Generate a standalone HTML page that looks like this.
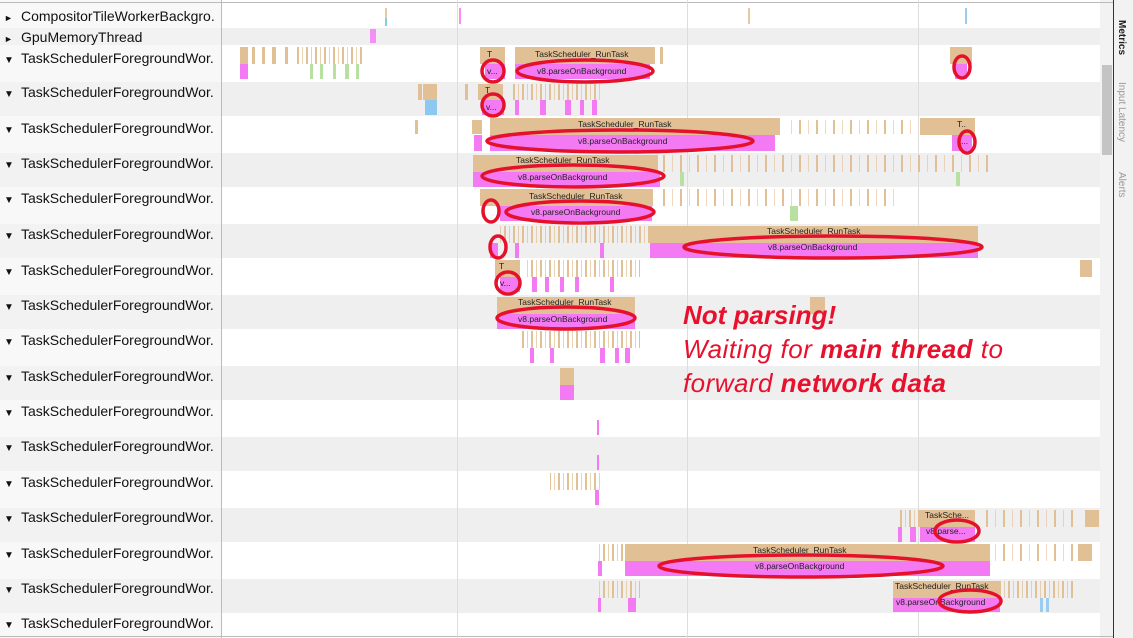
<!DOCTYPE html>
<html><head><meta charset="utf-8"><style>
html,body{margin:0;padding:0;background:#fff}
svg{display:block}
.l{font-family:"Liberation Sans",sans-serif;font-size:14px;fill:#111}
.s{font-family:"Liberation Sans",sans-serif;font-size:8.5px;fill:#222}
.a{font-family:"Liberation Sans",sans-serif;font-style:italic;font-size:26px;fill:#e8112d}
</style></head><body>
<svg width="1133" height="638" viewBox="0 0 1133 638" xmlns="http://www.w3.org/2000/svg">
<defs>
<pattern id="st" width="9" height="10" patternUnits="userSpaceOnUse"><rect x="0" y="0" width="2" height="10" fill="#e2c096"/><rect x="5" y="0" width="1" height="10" fill="#e2c096" opacity=".7"/></pattern>
<pattern id="st2" width="17" height="10" patternUnits="userSpaceOnUse"><rect x="0" y="0" width="2" height="10" fill="#e2c096"/><rect x="9" y="0" width="1" height="10" fill="#e2c096" opacity=".6"/></pattern>
</defs>
<rect width="1133" height="638" fill="#fff"/>
<g fill="#efefef">
<rect x="0" y="28" width="1100" height="17"/>
<rect x="0" y="82" width="1100" height="34"/>
<rect x="0" y="153" width="1100" height="34"/>
<rect x="0" y="224" width="1100" height="34"/>
<rect x="0" y="295" width="1100" height="34"/>
<rect x="0" y="366" width="1100" height="34"/>
<rect x="0" y="437" width="1100" height="34"/>
<rect x="0" y="508" width="1100" height="34"/>
<rect x="0" y="579" width="1100" height="34"/>
</g>
<rect x="0" y="0" width="221" height="638" fill="#f3f3f3" opacity="0.6"/>
<rect x="1100" y="0" width="33" height="638" fill="#f2f2f2"/>
<rect x="1102" y="65" width="10" height="90" fill="#c4c4c4"/>
<line x1="1113.5" y1="0" x2="1113.5" y2="638" stroke="#333" stroke-width="1"/>
<line x1="221.5" y1="0" x2="221.5" y2="638" stroke="#bbb"/>
<line x1="0" y1="2.5" x2="1113" y2="2.5" stroke="#bbb"/>
<line x1="0" y1="636.5" x2="1113" y2="636.5" stroke="#bbb"/>
<g stroke="#ddd"><line x1="457.5" y1="0" x2="457.5" y2="638"/><line x1="687.5" y1="0" x2="687.5" y2="638"/><line x1="918.5" y1="0" x2="918.5" y2="638"/></g>
<g font-family="Liberation Sans,sans-serif" font-size="10" fill="#444">
<text transform="translate(1119,20) rotate(90)" font-weight="bold" fill="#222">Metrics</text>
<text transform="translate(1119,82) rotate(90)" fill="#999">Input Latency</text>
<text transform="translate(1119,172) rotate(90)" fill="#999">Alerts</text>
</g>
<g class="l">
<text x="4" y="21" font-size="9">►</text><text x="21" y="21">CompositorTileWorkerBackgro.</text>
<text x="4" y="42" font-size="9">►</text><text x="21" y="42">GpuMemoryThread</text>
<text x="4" y="63" font-size="10">▼</text><text x="21" y="63">TaskSchedulerForegroundWor.</text>
<text x="4" y="97" font-size="10">▼</text><text x="21" y="97">TaskSchedulerForegroundWor.</text>
<text x="4" y="133" font-size="10">▼</text><text x="21" y="133">TaskSchedulerForegroundWor.</text>
<text x="4" y="168" font-size="10">▼</text><text x="21" y="168">TaskSchedulerForegroundWor.</text>
<text x="4" y="203" font-size="10">▼</text><text x="21" y="203">TaskSchedulerForegroundWor.</text>
<text x="4" y="239" font-size="10">▼</text><text x="21" y="239">TaskSchedulerForegroundWor.</text>
<text x="4" y="275" font-size="10">▼</text><text x="21" y="275">TaskSchedulerForegroundWor.</text>
<text x="4" y="310" font-size="10">▼</text><text x="21" y="310">TaskSchedulerForegroundWor.</text>
<text x="4" y="345" font-size="10">▼</text><text x="21" y="345">TaskSchedulerForegroundWor.</text>
<text x="4" y="381" font-size="10">▼</text><text x="21" y="381">TaskSchedulerForegroundWor.</text>
<text x="4" y="416" font-size="10">▼</text><text x="21" y="416">TaskSchedulerForegroundWor.</text>
<text x="4" y="451" font-size="10">▼</text><text x="21" y="451">TaskSchedulerForegroundWor.</text>
<text x="4" y="487" font-size="10">▼</text><text x="21" y="487">TaskSchedulerForegroundWor.</text>
<text x="4" y="522" font-size="10">▼</text><text x="21" y="522">TaskSchedulerForegroundWor.</text>
<text x="4" y="558" font-size="10">▼</text><text x="21" y="558">TaskSchedulerForegroundWor.</text>
<text x="4" y="593" font-size="10">▼</text><text x="21" y="593">TaskSchedulerForegroundWor.</text>
<text x="4" y="628" font-size="10">▼</text><text x="21" y="628">TaskSchedulerForegroundWor.</text>
</g>
<g>
<rect x="385" y="8" width="2" height="10" fill="#e8c9a0"/><rect x="385" y="18" width="2" height="8" fill="#8cd"/>
<rect x="459" y="8" width="2" height="16" fill="#f58ff5"/>
<rect x="370" y="29" width="6" height="14" fill="#f58ff5"/>
<rect x="748" y="8" width="2" height="16" fill="#e8c9a0"/><rect x="965" y="8" width="2" height="16" fill="#9ce"/>
</g>
<!-- striped scattered regions -->
<g>
<rect x="295" y="47" width="70" height="17" fill="url(#st)"/>
<rect x="510" y="84" width="90" height="16" fill="url(#st)"/>
<rect x="785" y="120" width="130" height="14" fill="url(#st2)"/>
<rect x="660" y="155" width="330" height="17" fill="url(#st2)"/>
<rect x="660" y="189" width="240" height="17" fill="url(#st2)"/>
<rect x="500" y="226" width="150" height="17" fill="url(#st)"/>
<rect x="525" y="260" width="115" height="17" fill="url(#st)"/>
<rect x="520" y="331" width="120" height="17" fill="url(#st)"/>
<rect x="550" y="473" width="50" height="17" fill="url(#st)"/>
<rect x="898" y="510" width="22" height="17" fill="url(#st)"/>
<rect x="980" y="510" width="100" height="17" fill="url(#st2)"/>
<rect x="598" y="544" width="25" height="17" fill="url(#st)"/>
<rect x="995" y="544" width="80" height="17" fill="url(#st2)"/>
<rect x="598" y="581" width="42" height="17" fill="url(#st)"/>
<rect x="1000" y="581" width="75" height="17" fill="url(#st)"/>
<rect x="240" y="64" width="4" height="1" fill="none"/>
</g>
<g fill="#e2c096">
<rect x="240" y="47" width="8" height="17"/><rect x="252" y="47" width="3" height="17"/><rect x="262" y="47" width="3" height="17"/><rect x="272" y="47" width="4" height="17"/><rect x="285" y="47" width="3" height="17"/>
<rect x="480" y="47" width="25" height="17"/><rect x="515" y="47" width="140" height="17"/><rect x="660" y="47" width="3" height="17"/><rect x="950" y="47" width="22" height="17"/>
<rect x="418" y="84" width="4" height="16"/><rect x="423" y="84" width="14" height="16"/><rect x="465" y="84" width="3" height="16"/><rect x="478" y="84" width="25" height="16"/>
<rect x="415" y="120" width="3" height="14"/><rect x="472" y="120" width="10" height="14"/><rect x="490" y="118" width="290" height="17"/><rect x="920" y="118" width="55" height="17"/>
<rect x="473" y="155" width="185" height="17"/>
<rect x="480" y="189" width="173" height="17"/>
<rect x="650" y="226" width="328" height="17"/>
<rect x="495" y="260" width="25" height="17"/><rect x="1080" y="260" width="12" height="17"/>
<rect x="497" y="297" width="138" height="17"/><rect x="810" y="297" width="15" height="17"/>
<rect x="560" y="368" width="14" height="17"/>
<rect x="920" y="510" width="55" height="17"/><rect x="1085" y="510" width="14" height="17"/>
<rect x="625" y="544" width="365" height="17"/><rect x="1078" y="544" width="14" height="17"/>
<rect x="893" y="581" width="107" height="17"/>
</g>
<g fill="#b8e0a0">
<rect x="310" y="64" width="3" height="15"/><rect x="320" y="64" width="3" height="15"/><rect x="333" y="64" width="3" height="15"/><rect x="345" y="64" width="4" height="15"/><rect x="356" y="64" width="3" height="15"/><rect x="790" y="206" width="8" height="15"/><rect x="680" y="172" width="4" height="14"/><rect x="956" y="172" width="4" height="14"/>
</g>
<rect x="425" y="100" width="12" height="15" fill="#8cc8f0"/>
<rect x="1040" y="598" width="3" height="14" fill="#9ce"/><rect x="1046" y="598" width="3" height="14" fill="#9ce"/>
<g fill="#f47af4">
<rect x="240" y="64" width="8" height="15"/><rect x="485" y="64" width="20" height="15"/><rect x="515" y="64" width="135" height="15"/><rect x="955" y="64" width="12" height="15"/>
<rect x="482" y="100" width="22" height="15"/><rect x="515" y="100" width="4" height="15"/><rect x="540" y="100" width="6" height="15"/><rect x="565" y="100" width="6" height="15"/><rect x="580" y="100" width="4" height="15"/><rect x="592" y="100" width="5" height="15"/>
<rect x="474" y="135" width="8" height="16"/><rect x="490" y="135" width="285" height="16"/><rect x="952" y="135" width="20" height="16"/>
<rect x="473" y="172" width="187" height="15"/>
<rect x="500" y="206" width="152" height="15"/>
<rect x="490" y="243" width="8" height="15"/><rect x="515" y="243" width="4" height="15"/><rect x="600" y="243" width="4" height="15"/><rect x="650" y="243" width="328" height="15"/>
<rect x="500" y="277" width="20" height="15"/><rect x="532" y="277" width="5" height="15"/><rect x="545" y="277" width="4" height="15"/><rect x="560" y="277" width="4" height="15"/><rect x="575" y="277" width="4" height="15"/><rect x="610" y="277" width="4" height="15"/>
<rect x="497" y="314" width="138" height="15"/>
<rect x="530" y="348" width="4" height="15"/><rect x="550" y="348" width="4" height="15"/><rect x="600" y="348" width="5" height="15"/><rect x="615" y="348" width="4" height="15"/><rect x="625" y="348" width="5" height="15"/>
<rect x="560" y="385" width="14" height="15"/><rect x="597" y="420" width="2" height="15"/><rect x="597" y="455" width="2" height="15"/><rect x="595" y="490" width="4" height="15"/>
<rect x="898" y="527" width="4" height="15"/><rect x="910" y="527" width="6" height="15"/><rect x="920" y="527" width="55" height="15"/>
<rect x="598" y="561" width="4" height="15"/><rect x="625" y="561" width="365" height="15"/>
<rect x="598" y="598" width="3" height="14"/><rect x="628" y="598" width="8" height="14"/><rect x="893" y="598" width="107" height="14"/>
</g>
<g class="s">
<text x="487" y="57">T</text><text x="535" y="57">TaskScheduler_RunTask</text><text x="487" y="74">v...</text><text x="537" y="74">v8.parseOnBackground</text>
<text x="485" y="93">T</text><text x="486" y="110">v...</text>
<text x="578" y="127">TaskScheduler_RunTask</text><text x="578" y="144">v8.parseOnBackground</text><text x="957" y="127">T..</text><text x="961" y="144">...</text>
<text x="516" y="163">TaskScheduler_RunTask</text><text x="518" y="180">v8.parseOnBackground</text>
<text x="529" y="199">TaskScheduler_RunTask</text><text x="531" y="215">v8.parseOnBackground</text>
<text x="767" y="234">TaskScheduler_RunTask</text><text x="768" y="250">v8.parseOnBackground</text>
<text x="499" y="269">T</text><text x="500" y="286">v...</text>
<text x="518" y="305">TaskScheduler_RunTask</text><text x="518" y="322">v8.parseOnBackground</text>
<text x="925" y="518">TaskSche...</text><text x="926" y="534">v8.parse...</text>
<text x="753" y="553">TaskScheduler_RunTask</text><text x="755" y="569">v8.parseOnBackground</text>
<text x="895" y="589">TaskScheduler_RunTask</text><text x="896" y="605">v8.parseOnBackground</text>
</g>
<g fill="none" stroke="#e5102a" stroke-width="3.5">
<ellipse cx="493" cy="71" rx="11" ry="11"/><ellipse cx="585" cy="71" rx="68" ry="11"/><ellipse cx="962" cy="67" rx="8" ry="11"/>
<ellipse cx="493" cy="105" rx="11" ry="11"/>
<ellipse cx="620" cy="141" rx="133" ry="11"/><ellipse cx="967" cy="142" rx="8" ry="11"/>
<ellipse cx="573" cy="176" rx="91" ry="11"/>
<ellipse cx="580" cy="212" rx="74" ry="11"/><ellipse cx="491" cy="211" rx="8" ry="11"/>
<ellipse cx="498" cy="247" rx="8" ry="11"/><ellipse cx="833" cy="247" rx="149" ry="11"/>
<ellipse cx="508" cy="283" rx="12" ry="11"/>
<ellipse cx="566" cy="318" rx="69" ry="11"/>
<ellipse cx="957" cy="531" rx="22" ry="11"/>
<ellipse cx="801" cy="566" rx="142" ry="11"/>
<ellipse cx="970" cy="601" rx="31" ry="11"/>
</g>
<text class="a" x="683" y="324" font-weight="bold">Not parsing!</text>
<text class="a" x="683" y="358" textLength="320">Waiting for <tspan font-weight="bold">main thread</tspan> to</text>
<text class="a" x="683" y="392" textLength="263">forward <tspan font-weight="bold">network data</tspan></text>
</svg>
</body></html>
